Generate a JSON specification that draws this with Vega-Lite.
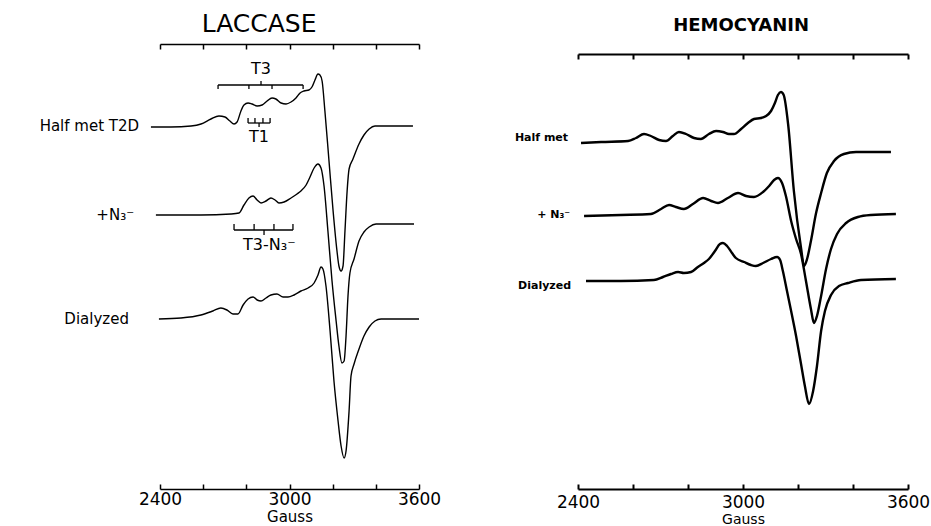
{
  "$schema": "https://vega.github.io/schema/vega-lite/v6.json",
  "background": "white",
  "padding": {"left": 39, "top": 11, "right": 0, "bottom": 0},
  "bounds": "flush",
  "spacing": 159,
  "config": {"view": {"stroke": null}, "font": "DejaVu Sans", "axis": {"grid": false}},
  "hconcat": [
    {
      "width": 259,
      "height": 445,
      "layer": [
        {
          "data": {"values": [
            {"trace":"a","g":2358,"y":359},{"trace":"a","g":2451,"y":359},{"trace":"a","g":2544,"y":360},{"trace":"a","g":2590,"y":362},{"trace":"a","g":2636,"y":367},{"trace":"a","g":2673,"y":370},{"trace":"a","g":2701,"y":369},{"trace":"a","g":2724,"y":365},{"trace":"a","g":2743,"y":362},{"trace":"a","g":2757,"y":364},{"trace":"a","g":2775,"y":375},{"trace":"a","g":2789,"y":381},{"trace":"a","g":2808,"y":383},{"trace":"a","g":2826,"y":382},{"trace":"a","g":2850,"y":380},{"trace":"a","g":2873,"y":381},{"trace":"a","g":2896,"y":385},{"trace":"a","g":2919,"y":388},{"trace":"a","g":2937,"y":387},{"trace":"a","g":2961,"y":383},{"trace":"a","g":2984,"y":382},{"trace":"a","g":3007,"y":384},{"trace":"a","g":3030,"y":388},{"trace":"a","g":3049,"y":393},{"trace":"a","g":3067,"y":395},{"trace":"a","g":3090,"y":396},{"trace":"a","g":3104,"y":399},{"trace":"a","g":3118,"y":406},{"trace":"a","g":3132,"y":412},{"trace":"a","g":3141,"y":411},{"trace":"a","g":3151,"y":405},{"trace":"a","g":3164,"y":375},{"trace":"a","g":3183,"y":325},{"trace":"a","g":3202,"y":275},{"trace":"a","g":3220,"y":235},{"trace":"a","g":3229,"y":220},{"trace":"a","g":3239,"y":215},{"trace":"a","g":3248,"y":220},{"trace":"a","g":3257,"y":255},{"trace":"a","g":3267,"y":295},{"trace":"a","g":3276,"y":317},{"trace":"a","g":3294,"y":327},{"trace":"a","g":3322,"y":342},{"trace":"a","g":3345,"y":351},{"trace":"a","g":3369,"y":357},{"trace":"a","g":3396,"y":360},{"trace":"a","g":3447,"y":360},{"trace":"a","g":3572,"y":360},
            {"trace":"b","g":2381,"y":271},{"trace":"b","g":2590,"y":271},{"trace":"b","g":2729,"y":272},{"trace":"b","g":2766,"y":273},{"trace":"b","g":2789,"y":281},{"trace":"b","g":2812,"y":288},{"trace":"b","g":2831,"y":290},{"trace":"b","g":2850,"y":286},{"trace":"b","g":2868,"y":283},{"trace":"b","g":2891,"y":285},{"trace":"b","g":2914,"y":288},{"trace":"b","g":2933,"y":286},{"trace":"b","g":2951,"y":283},{"trace":"b","g":2975,"y":284},{"trace":"b","g":3007,"y":288},{"trace":"b","g":3035,"y":292},{"trace":"b","g":3053,"y":295},{"trace":"b","g":3077,"y":301},{"trace":"b","g":3095,"y":309},{"trace":"b","g":3114,"y":318},{"trace":"b","g":3132,"y":322},{"trace":"b","g":3146,"y":318},{"trace":"b","g":3160,"y":300},{"trace":"b","g":3178,"y":255},{"trace":"b","g":3197,"y":205},{"trace":"b","g":3216,"y":165},{"trace":"b","g":3229,"y":140},{"trace":"b","g":3243,"y":123},{"trace":"b","g":3253,"y":125},{"trace":"b","g":3262,"y":150},{"trace":"b","g":3271,"y":190},{"trace":"b","g":3280,"y":213},{"trace":"b","g":3299,"y":227},{"trace":"b","g":3322,"y":245},{"trace":"b","g":3345,"y":254},{"trace":"b","g":3369,"y":259},{"trace":"b","g":3401,"y":262},{"trace":"b","g":3577,"y":262},
            {"trace":"c","g":2395,"y":167},{"trace":"c","g":2497,"y":168},{"trace":"c","g":2590,"y":171},{"trace":"c","g":2645,"y":175},{"trace":"c","g":2682,"y":178},{"trace":"c","g":2710,"y":176},{"trace":"c","g":2738,"y":172},{"trace":"c","g":2761,"y":172},{"trace":"c","g":2785,"y":181},{"trace":"c","g":2808,"y":187},{"trace":"c","g":2831,"y":189},{"trace":"c","g":2850,"y":186},{"trace":"c","g":2868,"y":185},{"trace":"c","g":2891,"y":188},{"trace":"c","g":2914,"y":191},{"trace":"c","g":2942,"y":192},{"trace":"c","g":2970,"y":189},{"trace":"c","g":2993,"y":189},{"trace":"c","g":3021,"y":191},{"trace":"c","g":3053,"y":195},{"trace":"c","g":3086,"y":198},{"trace":"c","g":3114,"y":203},{"trace":"c","g":3132,"y":211},{"trace":"c","g":3146,"y":219},{"trace":"c","g":3155,"y":217},{"trace":"c","g":3169,"y":200},{"trace":"c","g":3188,"y":155},{"trace":"c","g":3206,"y":105},{"trace":"c","g":3225,"y":65},{"trace":"c","g":3239,"y":40},{"trace":"c","g":3253,"y":28},{"trace":"c","g":3262,"y":35},{"trace":"c","g":3276,"y":75},{"trace":"c","g":3285,"y":110},{"trace":"c","g":3299,"y":122},{"trace":"c","g":3322,"y":137},{"trace":"c","g":3345,"y":150},{"trace":"c","g":3369,"y":159},{"trace":"c","g":3396,"y":165},{"trace":"c","g":3424,"y":167},{"trace":"c","g":3600,"y":167}
          ]},
          "mark": {"type": "line", "stroke": "black", "strokeWidth": 1.4, "interpolate": "monotone"},
          "encoding": {
            "x": {"field": "g", "type": "quantitative", "scale": {"domain": [2400, 3600], "nice": false, "zero": false},
              "axis": {"orient": "bottom", "values": [2400, 2600, 2800, 3000, 3200, 3400, 3600], "format": "d",
                "labelExpr": "datum.value % 600 == 0 ? datum.label : ''", "labelFlush": false,
                "tickSize": -5, "tickWidth": 1.5, "tickColor": "black", "domainColor": "black", "domainWidth": 1.5,
                "labelFontSize": 17, "labelColor": "black", "labelPadding": 7,
                "title": "Gauss", "titleFontSize": 15, "titleFontWeight": "normal", "titleColor": "black", "titlePadding": 2}},
            "y": {"field": "y", "type": "quantitative", "scale": {"domain": [-3, 442], "nice": false, "zero": false}, "axis": null},
            "detail": {"field": "trace"}
          }
        },
        {
          "data": {"values": [{"t": "LACCASE", "g": 2859, "y": 462}]},
          "mark": {"type": "text", "fontSize": 25, "color": "black", "align": "center", "baseline": "middle"},
          "encoding": {
            "x": {"field": "g", "type": "quantitative",
              "axis": {"orient": "top", "values": [2400, 2600, 2800, 3000, 3200, 3400, 3600], "labels": false, "title": null,
                "tickSize": -5, "tickWidth": 1.5, "tickColor": "black", "domainColor": "black", "domainWidth": 1.5}},
            "y": {"field": "y", "type": "quantitative", "axis": null},
            "text": {"field": "t"}
          }
        },
        {
          "data": {"values": [{"t": "Half met T2D", "g": 2303, "y": 360}, {"t": "+N₃⁻", "g": 2280, "y": 271}, {"t": "Dialyzed", "g": 2256, "y": 167}]},
          "mark": {"type": "text", "fontSize": 15, "color": "black", "align": "right", "baseline": "middle"},
          "encoding": {
            "x": {"field": "g", "type": "quantitative", "axis": null},
            "y": {"field": "y", "type": "quantitative", "axis": null},
            "text": {"field": "t"}
          }
        },
        {
          "data": {"values": [{"t": "T3", "g": 2868, "y": 417}, {"t": "T1", "g": 2859, "y": 349}]},
          "mark": {"type": "text", "fontSize": 16, "color": "black", "align": "center", "baseline": "middle"},
          "encoding": {
            "x": {"field": "g", "type": "quantitative", "axis": null},
            "y": {"field": "y", "type": "quantitative", "axis": null},
            "text": {"field": "t"}
          }
        },
        {
          "data": {"values": [{"t": "T3-N₃⁻", "g": 2785, "y": 241}]},
          "mark": {"type": "text", "fontSize": 16, "color": "black", "align": "left", "baseline": "middle"},
          "encoding": {
            "x": {"field": "g", "type": "quantitative", "axis": null},
            "y": {"field": "y", "type": "quantitative", "axis": null},
            "text": {"field": "t"}
          }
        },
        {
          "data": {"values": [
            {"g1": 2669, "g2": 3063, "y1": 401, "y2": 401},
            {"g1": 2669, "g2": 2669, "y1": 401, "y2": 397},
            {"g1": 2812, "g2": 2812, "y1": 401, "y2": 397},
            {"g1": 2919, "g2": 2919, "y1": 401, "y2": 397},
            {"g1": 3063, "g2": 3063, "y1": 401, "y2": 397},
            {"g1": 2868, "g2": 2868, "y1": 401, "y2": 405},
            {"g1": 2808, "g2": 2910, "y1": 363, "y2": 363},
            {"g1": 2808, "g2": 2808, "y1": 363, "y2": 368},
            {"g1": 2840, "g2": 2840, "y1": 363, "y2": 368},
            {"g1": 2877, "g2": 2877, "y1": 363, "y2": 368},
            {"g1": 2910, "g2": 2910, "y1": 363, "y2": 368},
            {"g1": 2859, "g2": 2859, "y1": 363, "y2": 359},
            {"g1": 2743, "g2": 3016, "y1": 256, "y2": 256},
            {"g1": 2743, "g2": 2743, "y1": 256, "y2": 262},
            {"g1": 2836, "g2": 2836, "y1": 256, "y2": 262},
            {"g1": 2928, "g2": 2928, "y1": 256, "y2": 262},
            {"g1": 3016, "g2": 3016, "y1": 256, "y2": 262},
            {"g1": 2882, "g2": 2882, "y1": 256, "y2": 251}
          ]},
          "mark": {"type": "rule", "stroke": "black", "strokeWidth": 1.3},
          "encoding": {
            "x": {"field": "g1", "type": "quantitative", "axis": null},
            "x2": {"field": "g2"},
            "y": {"field": "y1", "type": "quantitative", "axis": null},
            "y2": {"field": "y2"}
          }
        }
      ]
    },
    {
      "width": 330,
      "height": 445,
      "layer": [
        {
          "data": {"values": [
            {"trace":"a","g":2411,"y":346},{"trace":"a","g":2484,"y":347},{"trace":"a","g":2582,"y":348},{"trace":"a","g":2611,"y":351},{"trace":"a","g":2640,"y":355},{"trace":"a","g":2665,"y":353},{"trace":"a","g":2695,"y":349},{"trace":"a","g":2720,"y":348},{"trace":"a","g":2745,"y":353},{"trace":"a","g":2767,"y":357},{"trace":"a","g":2793,"y":355},{"trace":"a","g":2822,"y":351},{"trace":"a","g":2847,"y":350},{"trace":"a","g":2876,"y":355},{"trace":"a","g":2902,"y":358},{"trace":"a","g":2927,"y":357},{"trace":"a","g":2949,"y":355},{"trace":"a","g":2967,"y":355},{"trace":"a","g":2993,"y":360},{"trace":"a","g":3018,"y":366},{"trace":"a","g":3040,"y":370},{"trace":"a","g":3065,"y":371},{"trace":"a","g":3084,"y":373},{"trace":"a","g":3102,"y":378},{"trace":"a","g":3116,"y":386},{"trace":"a","g":3127,"y":394},{"trace":"a","g":3138,"y":397},{"trace":"a","g":3148,"y":394},{"trace":"a","g":3164,"y":365},{"trace":"a","g":3185,"y":298},{"trace":"a","g":3211,"y":241},{"trace":"a","g":3222,"y":223},{"trace":"a","g":3233,"y":230},{"trace":"a","g":3247,"y":248},{"trace":"a","g":3265,"y":275},{"trace":"a","g":3284,"y":296},{"trace":"a","g":3305,"y":316},{"trace":"a","g":3331,"y":328},{"trace":"a","g":3367,"y":335},{"trace":"a","g":3411,"y":337},{"trace":"a","g":3538,"y":337},
            {"trace":"b","g":2422,"y":273},{"trace":"b","g":2556,"y":274},{"trace":"b","g":2665,"y":275},{"trace":"b","g":2702,"y":280},{"trace":"b","g":2731,"y":284},{"trace":"b","g":2756,"y":282},{"trace":"b","g":2785,"y":280},{"trace":"b","g":2818,"y":285},{"trace":"b","g":2855,"y":291},{"trace":"b","g":2884,"y":288},{"trace":"b","g":2909,"y":286},{"trace":"b","g":2945,"y":291},{"trace":"b","g":2982,"y":296},{"trace":"b","g":3011,"y":293},{"trace":"b","g":3040,"y":292},{"trace":"b","g":3073,"y":297},{"trace":"b","g":3095,"y":303},{"trace":"b","g":3113,"y":309},{"trace":"b","g":3127,"y":311},{"trace":"b","g":3142,"y":306},{"trace":"b","g":3156,"y":293},{"trace":"b","g":3175,"y":268},{"trace":"b","g":3193,"y":250},{"trace":"b","g":3211,"y":235},{"trace":"b","g":3229,"y":208},{"trace":"b","g":3247,"y":180},{"trace":"b","g":3258,"y":166},{"trace":"b","g":3269,"y":173},{"trace":"b","g":3284,"y":193},{"trace":"b","g":3302,"y":220},{"trace":"b","g":3320,"y":240},{"trace":"b","g":3342,"y":255},{"trace":"b","g":3375,"y":266},{"trace":"b","g":3418,"y":272},{"trace":"b","g":3465,"y":274},{"trace":"b","g":3556,"y":275},
            {"trace":"c","g":2429,"y":208},{"trace":"c","g":2556,"y":208},{"trace":"c","g":2676,"y":209},{"trace":"c","g":2709,"y":212},{"trace":"c","g":2738,"y":215},{"trace":"c","g":2764,"y":217},{"trace":"c","g":2785,"y":216},{"trace":"c","g":2811,"y":217},{"trace":"c","g":2836,"y":222},{"trace":"c","g":2858,"y":226},{"trace":"c","g":2876,"y":230},{"trace":"c","g":2898,"y":238},{"trace":"c","g":2916,"y":245},{"trace":"c","g":2927,"y":246},{"trace":"c","g":2942,"y":243},{"trace":"c","g":2960,"y":236},{"trace":"c","g":2974,"y":231},{"trace":"c","g":3004,"y":227},{"trace":"c","g":3029,"y":224},{"trace":"c","g":3047,"y":223},{"trace":"c","g":3073,"y":226},{"trace":"c","g":3102,"y":230},{"trace":"c","g":3124,"y":232},{"trace":"c","g":3135,"y":229},{"trace":"c","g":3145,"y":218},{"trace":"c","g":3160,"y":198},{"trace":"c","g":3175,"y":178},{"trace":"c","g":3193,"y":153},{"trace":"c","g":3211,"y":125},{"trace":"c","g":3225,"y":103},{"trace":"c","g":3240,"y":85},{"trace":"c","g":3255,"y":98},{"trace":"c","g":3269,"y":123},{"trace":"c","g":3284,"y":158},{"trace":"c","g":3298,"y":178},{"trace":"c","g":3320,"y":194},{"trace":"c","g":3349,"y":203},{"trace":"c","g":3382,"y":206},{"trace":"c","g":3429,"y":209},{"trace":"c","g":3556,"y":210}
          ]},
          "mark": {"type": "line", "stroke": "black", "strokeWidth": 2.4, "interpolate": "monotone"},
          "encoding": {
            "x": {"field": "g", "type": "quantitative", "scale": {"domain": [2400, 3600], "nice": false, "zero": false},
              "axis": {"orient": "bottom", "values": [2400, 2600, 2800, 3000, 3200, 3400, 3600], "format": "d",
                "labelExpr": "datum.value % 600 == 0 ? datum.label : ''", "labelFlush": false,
                "tickSize": -5, "tickWidth": 2, "tickColor": "black", "domainColor": "black", "domainWidth": 2,
                "labelFontSize": 17, "labelColor": "black", "labelPadding": 10,
                "title": "Gauss", "titleFontSize": 14, "titleFontWeight": "normal", "titleColor": "black", "titlePadding": 2}},
            "y": {"field": "y", "type": "quantitative", "scale": {"domain": [0, 445], "nice": false, "zero": false}, "axis": null},
            "detail": {"field": "trace"}
          }
        },
        {
          "data": {"values": [{"t": "HEMOCYANIN", "g": 2993, "y": 463}]},
          "mark": {"type": "text", "fontSize": 18, "fontWeight": "bold", "color": "black", "align": "center", "baseline": "middle"},
          "encoding": {
            "x": {"field": "g", "type": "quantitative",
              "axis": {"orient": "top", "values": [2400, 2600, 2800, 3000, 3200, 3400, 3600], "labels": false, "title": null,
                "tickSize": -5, "tickWidth": 2, "tickColor": "black", "domainColor": "black", "domainWidth": 2, "offset": -10}},
            "y": {"field": "y", "type": "quantitative", "axis": null},
            "text": {"field": "t"}
          }
        },
        {
          "data": {"values": [{"t": "Half met", "g": 2364, "y": 351}, {"t": "+ N₃⁻", "g": 2371, "y": 274}, {"t": "Dialyzed", "g": 2375, "y": 203}]},
          "mark": {"type": "text", "fontSize": 11, "fontWeight": "bold", "color": "black", "align": "right", "baseline": "middle"},
          "encoding": {
            "x": {"field": "g", "type": "quantitative", "axis": null},
            "y": {"field": "y", "type": "quantitative", "axis": null},
            "text": {"field": "t"}
          }
        }
      ]
    }
  ]
}
